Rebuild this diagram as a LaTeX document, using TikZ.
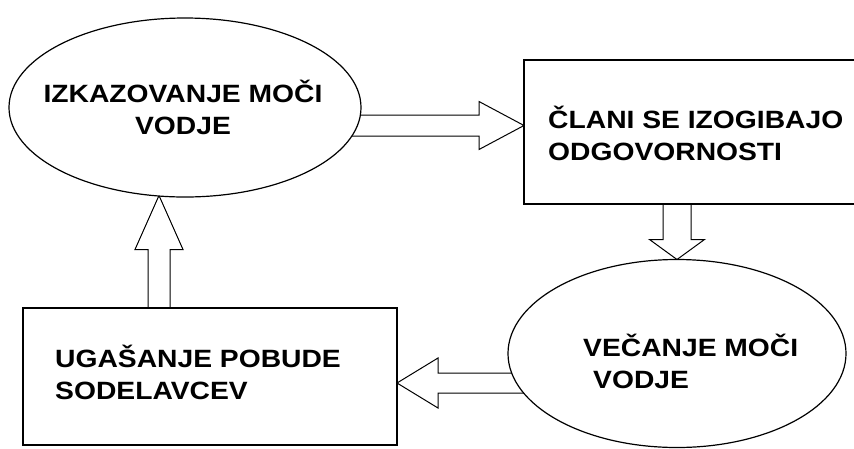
\documentclass[tikz,border=0pt]{standalone}
\usepackage{fontspec}
\setmainfont{Liberation Sans}[FakeStretch=1.13]
\usetikzlibrary{calc,backgrounds,shapes.geometric}
\newcommand\blockarr[5]{%
  \coordinate (hb) at ($(#2)!#5!(#1)$);
  \draw[blockline] ($(#1)!#3!90:(#2)$) -- ($(hb)!#3!-90:(#1)$) -- ($(hb)!#4!-90:(#1)$)
    -- (#2) -- ($(hb)!#4!90:(#1)$) -- ($(hb)!#3!90:(#1)$) -- ($(#1)!#3!-90:(#2)$);}
\tikzset{
  shapeline/.style={draw=black, line width=1.2pt, fill=white, inner sep=0pt, outer sep=0pt},
  ellbox/.style={shapeline, ellipse},
  rectbox/.style={shapeline, rectangle},
  blockline/.style={draw=black, line width=1pt, line join=miter},
  lbl/.style={inner sep=0pt, font=\bfseries\fontsize{25}{32}\selectfont}
}
\begin{document}
\begin{tikzpicture}[x=1pt,y=-1pt]
\useasboundingbox (0,0) rectangle (854,448);
\clip (0,0) rectangle (854,448);
% shapes
\node[ellbox, minimum width=352pt, minimum height=179pt] (e1) at (185,107.5) {};
\node[rectbox, minimum width=356pt, minimum height=144pt] (r1) at (702,132) {};
\node[ellbox, minimum width=338pt, minimum height=188pt] (e2) at (677,353.5) {};
\node[rectbox, minimum width=374pt, minimum height=137pt] (r2) at (210,376.5) {};
% texts
\node[lbl, align=center] (e1t) at (183,107.5) {IZKAZOVANJE MOČI\\VODJE};
\node[lbl, align=left, anchor=west] (r1t) at (548,133.5) {ČLANI SE IZOGIBAJO\\ODGOVORNOSTI};
\node[lbl, align=left, anchor=west] (e2t) at (583,361.5) {VEČANJE MOČI\\\hspace*{10pt}VODJE};
\node[lbl, align=left, anchor=west] (r2t) at (55,372.5) {UGAŠANJE POBUDE\\SODELAVCEV};
% connectors
\coordinate (a1s) at ($(e1.center)+(0,18)$);
\coordinate (a1e) at (r1.west |- a1s);
\coordinate (a2s) at (e2.north |- r1.center);
\coordinate (a2e) at (e2.north);
\coordinate (a3s) at ($(e2.center)+(0,29.5)$);
\coordinate (a3e) at (r2.east |- a3s);
\coordinate (a4s) at ($(r2.center)+(-51,0)$);
\coordinate (a4e) at ($(a4s |- e1.south)+(0,-1.5)$);
\begin{scope}[on background layer]
\fill[white] (0,0) rectangle (854,448);
\blockarr{a1s}{a1e}{10.5pt}{24pt}{45pt}
\blockarr{a2s}{a2e}{14pt}{27.5pt}{20pt}
\blockarr{a3s}{a3e}{10pt}{25pt}{41pt}
\blockarr{a4s}{a4e}{11pt}{24pt}{54pt}
\end{scope}
\end{tikzpicture}
\end{document}
